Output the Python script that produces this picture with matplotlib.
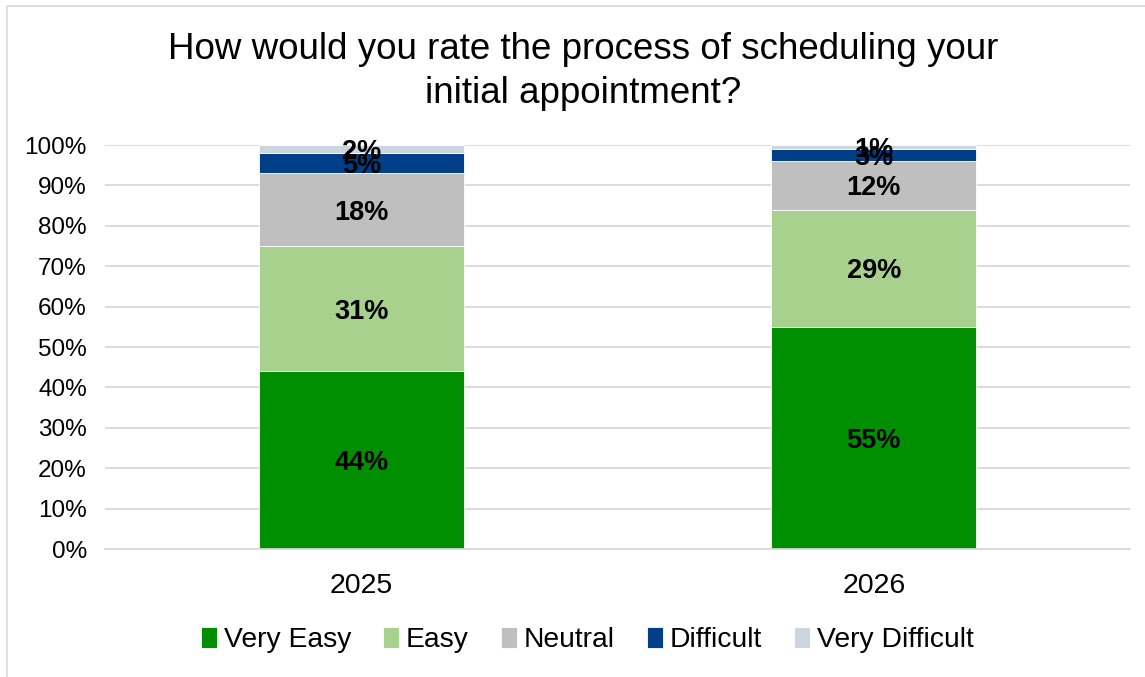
import numpy as np
import matplotlib.pyplot as plt
from matplotlib.patches import Rectangle
from matplotlib.ticker import PercentFormatter

plt.rcParams['font.family'] = ['Liberation Sans', 'DejaVu Sans']

years = ['2025', '2026']
categories = ['Very Easy', 'Easy', 'Neutral', 'Difficult', 'Very Difficult']
very_easy = [44, 55]
easy = [31, 29]
neutral = [18, 12]
difficult = [5, 3]
very_difficult = [2, 1]
colors = ['#008F00', '#A9D18E', '#BFBFBF', '#003F87', '#CDD5E0']

series = [very_easy, easy, neutral, difficult, very_difficult]

fig = plt.figure(figsize=(11.45, 6.77), dpi=100)
ax = fig.add_axes([105 / 1145, 1 - 549 / 677, 1025 / 1145, 404 / 677])

x = np.arange(len(years))
bottom = np.zeros(len(years))
for name, vals, c in zip(categories, series, colors):
    vals = np.array(vals, dtype=float)
    ax.bar(x, vals, 0.4, bottom=bottom, color=c, label=name,
           edgecolor='white', linewidth=0.6, zorder=2)
    for xi, b, v in zip(x, bottom, vals):
        ax.text(xi, b + v / 2, f'{int(v)}%', ha='center', va='center_baseline',
                fontsize=19.5, fontweight='bold', color='black', zorder=3)
    bottom += vals

ax.set_xlim(-0.5, 1.5)
ax.set_ylim(0, 100)
ax.set_yticks(np.arange(0, 101, 10))
ax.yaxis.set_major_formatter(PercentFormatter(decimals=0))
ax.set_xticks(x)
ax.set_xticklabels(years, fontsize=20.5)
ax.tick_params(axis='y', labelsize=17.5, length=0, pad=13)
ax.tick_params(axis='x', length=0, pad=17)
ax.grid(axis='y', color='#D9D9D9', linewidth=1.3, zorder=0)
for s in ['top', 'right', 'left']:
    ax.spines[s].set_visible(False)
ax.spines['bottom'].set_color('#D9D9D9')
ax.spines['bottom'].set_linewidth(1.3)

fig.suptitle('How would you rate the process of scheduling your\ninitial appointment?',
             fontsize=26.5, x=0.509, y=0.952, linespacing=1.3)

leg = fig.legend(loc='center', bbox_to_anchor=(0.513, 1 - 640 / 677), ncol=5,
                 frameon=False, fontsize=20.3, handlelength=0.55, handleheight=0.8,
                 handletextpad=0.25, columnspacing=1.15)

# light frame at left and top
fig.add_artist(Rectangle((7 / 1145, -0.1), 1.2, 1.1 - 6 / 677, transform=fig.transFigure,
                         fill=False, edgecolor='#D9D9D9', linewidth=1.2))

fig.savefig('out.png', dpi=100)
